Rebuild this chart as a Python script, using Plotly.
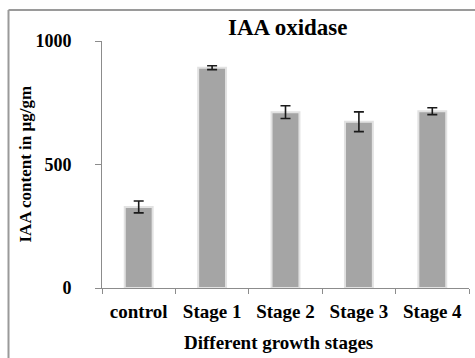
import plotly.graph_objects as go

categories = ["control", "Stage 1", "Stage 2", "Stage 3", "Stage 4"]
values = [328, 892, 712, 673, 716]
errors = [24, 8, 26, 40, 14]
y_ticks = [0, 500, 1000]

W, H = 475, 358
ML, MR, MT, MB = 102, 6, 41, 70
PW = W - ML - MR
PH = H - MT - MB

font_family = "Liberation Serif"

fig = go.Figure()
fig.add_trace(go.Bar(
    x=categories, y=values, width=0.38,
    marker=dict(color="#a5a5a5", line=dict(color="#e2e2e2", width=2)),
    error_y=dict(type="data", array=errors, visible=True, color="#1a1a1a",
                 thickness=1.6, width=5),
    showlegend=False,
))

def px_x(p):
    return (p - ML) / PW

def px_y(p):
    return (MT + PH - p) / PH

fig.update_layout(
    width=W, height=H,
    margin=dict(l=ML, r=MR, t=MT, b=MB),
    plot_bgcolor="white", paper_bgcolor="white",
    font=dict(family=font_family, color="black"),
    xaxis=dict(
        showline=True, linecolor="#8c8c8c", linewidth=1,
        ticks="outside", tickson="boundaries", ticklen=5, tickcolor="#8c8c8c",
        tickfont=dict(size=19, family=font_family, weight="bold"),
        ticklabelstandoff=6,
        showgrid=False, zeroline=False,
    ),
    yaxis=dict(
        range=[0, 1000], tickvals=y_ticks,
        showline=True, linecolor="#8c8c8c", linewidth=1,
        ticks="outside", ticklen=6, tickcolor="#8c8c8c",
        tickfont=dict(size=18, family=font_family, weight="bold"),
        ticklabelstandoff=20,
        showgrid=False, zeroline=False,
    ),
    annotations=[
        dict(text="<b>IAA oxidase</b>", xref="paper", yref="paper", x=0.5, y=1,
             xanchor="center", yanchor="middle", xshift=2, yshift=14,
             showarrow=False, font=dict(size=23, family=font_family)),
        dict(text="<b>IAA content in µg/gm</b>", xref="paper", yref="paper",
             x=0, y=0.5, xanchor="center", yanchor="middle", xshift=-77,
             textangle=-90, showarrow=False, font=dict(size=17, family=font_family)),
        dict(text="<b>Different growth stages</b>", xref="paper", yref="paper",
             x=0.5, y=0, xanchor="center", yanchor="middle", xshift=-7, yshift=-54,
             showarrow=False, font=dict(size=19, family=font_family)),
    ],
    shapes=[
        dict(type="line", xref="paper", yref="paper",
             x0=px_x(8.5), x1=px_x(476), y0=px_y(10), y1=px_y(10),
             line=dict(color="#9a9a9a", width=2)),
        dict(type="line", xref="paper", yref="paper",
             x0=px_x(8.5), x1=px_x(8.5), y0=px_y(10), y1=px_y(360),
             line=dict(color="#9a9a9a", width=2)),
    ],
)

fig.write_html(
    "out.html",
    config={"displayModeBar": False},
    post_script="document.body.style.margin='0';document.body.style.padding='0';",
)
